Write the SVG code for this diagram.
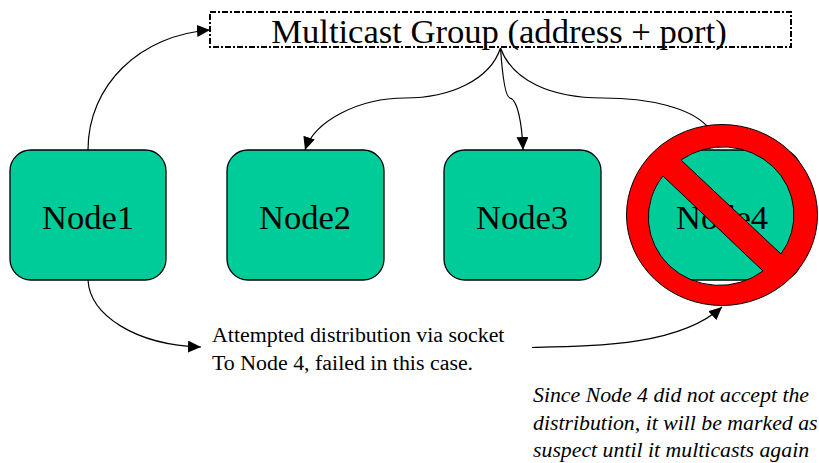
<svg xmlns="http://www.w3.org/2000/svg" width="819" height="463" viewBox="0 0 819 463">
<defs>
<style>
text{font-family:"Liberation Serif","Times New Roman",serif;fill:#000}
.n{fill:#00cc99;stroke:#000;stroke-width:1.3}
.nt{font-size:34.6px;text-anchor:middle}
.c{fill:none;stroke:#000;stroke-width:1.2}
.a{marker-end:url(#arr)}
.s{font-size:21.9px}
.i{font-size:21.8px;font-style:italic}
</style>
<marker id="arr" markerUnits="userSpaceOnUse" markerWidth="14" markerHeight="12" refX="13" refY="6" orient="auto"><path d="M0,0L13,6L0,12Z" fill="#000"/></marker>
</defs>
<rect width="819" height="463" fill="#fff"/>
<g id="node1"><rect class="n" x="10" y="150" width="156" height="130" rx="21"/><text class="nt" x="88" y="229">Node1</text></g>
<g id="node2"><rect class="n" x="227" y="150" width="157" height="130" rx="21"/><text class="nt" x="305" y="229">Node2</text></g>
<g id="node3"><rect class="n" x="444" y="150" width="157" height="130" rx="21"/><text class="nt" x="522" y="229">Node3</text></g>
<g id="node4"><rect class="n" x="644" y="150" width="157" height="130" rx="21"/><text class="nt" x="722" y="229">Node4</text></g>
<g id="group"><rect x="210" y="12" width="581" height="35" fill="#fff" stroke="#000" stroke-width="2" stroke-dasharray="6 2 2 2"/><text x="499" y="43" font-size="34.6" text-anchor="middle">Multicast Group (address + port)</text></g>
<g id="connectors">
<path class="c a" d="M88,150C88,85 140,35 210,30"/>
<path class="c a" d="M500.500,48C490,80 450,98 405,98C360,98 315,120 305,150"/>
<path class="c a" d="M500.500,48C502,70 505,97 510,98C518,100 522,125 523,150"/>
<path class="c" d="M500.500,48C512,80 550,98 603,98C650,98 690,108 707,126"/>
<path class="c a" d="M88,280C90,315 135,345 201,347"/>
<path class="c a" d="M532,347.500C600,346 680,345 722,307"/>
</g>
<g id="no-symbol"><path d="M626.5,215A95.500,90.500 0 1 1 817.500,215A95.500,90.500 0 1 1 626.500,215ZM663,176A71,68 0 0 0 763,271ZM681,160L781,254A71,68 0 0 0 681,160Z" fill="#f00" fill-rule="evenodd" stroke="#000" stroke-width="1"/></g>
<g id="labels">
<text class="s" x="212" y="342">Attempted distribution via socket</text>
<text class="s" x="212" y="370">To Node 4, failed in this case.</text>
<text class="i" x="533" y="402">Since Node 4 did not accept the</text>
<text class="i" x="533" y="430">distribution, it will be marked as</text>
<text class="i" x="533" y="457">suspect until it multicasts again</text>
</g>
</svg>
